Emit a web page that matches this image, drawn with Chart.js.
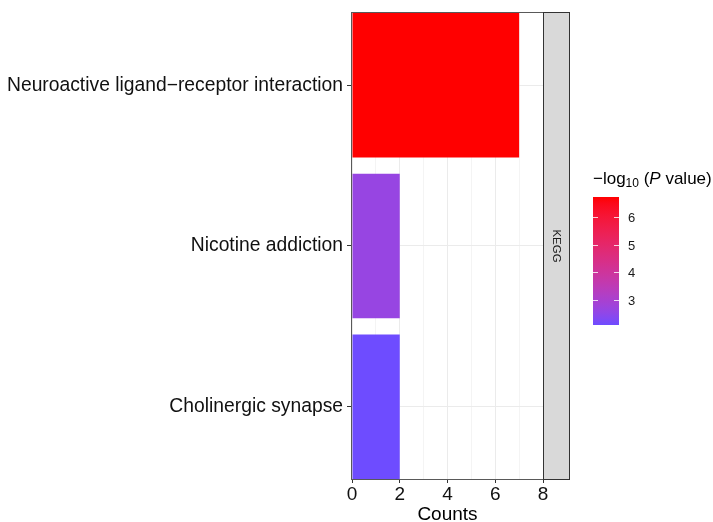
<!DOCTYPE html>
<html><head><meta charset="utf-8">
<script src="https://cdn.jsdelivr.net/npm/chart.js@4/dist/chart.umd.min.js"></script>
<style>html,body{margin:0;padding:0;background:#fff}</style>
</head><body>
<canvas id="c" width="713" height="522"></canvas>
<script>
// ---- data ----
const categories = ["Neuroactive ligand\u2212receptor interaction", "Nicotine addiction", "Cholinergic synapse"];
const counts = [7, 2, 2];
const logP = [6.72, 2.65, 2.10];
const xTickValues = [0, 2, 4, 6, 8];
const legendBreaks = [3, 4, 5, 6];
const facetLabel = "KEGG";
const xTitle = "Counts";

// ---- colour scale (Lab interpolation) ----
const LOW = "#6E4CFF", HIGH = "#FF0000";
function hexRgb(h){return [1,3,5].map(i=>parseInt(h.substr(i,2),16));}
function lin(c){c/=255;return c<=0.04045?c/12.92:Math.pow((c+0.055)/1.055,2.4);}
function unlin(c){c=c<=0.0031308?12.92*c:1.055*Math.pow(c,1/2.4)-0.055;return Math.round(Math.max(0,Math.min(1,c))*255);}
function rgb2lab(rgb){
  const [r,g,b]=rgb.map(lin);
  let X=(r*0.4124+g*0.3576+b*0.1805)/0.95047, Y=(r*0.2126+g*0.7152+b*0.0722), Z=(r*0.0193+g*0.1192+b*0.9505)/1.08883;
  const f=t=>t>0.008856?Math.cbrt(t):7.787*t+16/116;
  const fx=f(X),fy=f(Y),fz=f(Z);
  return [116*fy-16,500*(fx-fy),200*(fy-fz)];
}
function lab2rgb(lab){
  const fy=(lab[0]+16)/116, fx=fy+lab[1]/500, fz=fy-lab[2]/200;
  const fi=t=>t*t*t>0.008856?t*t*t:(t-16/116)/7.787;
  const X=fi(fx)*0.95047, Y=fi(fy), Z=fi(fz)*1.08883;
  const r=X*3.2406+Y*-1.5372+Z*-0.4986, g=X*-0.9689+Y*1.8758+Z*0.0415, b=X*0.0557+Y*-0.2040+Z*1.0570;
  return [unlin(r),unlin(g),unlin(b)];
}
const labLo=rgb2lab(hexRgb(LOW)), labHi=rgb2lab(hexRgb(HIGH));
const vMin=Math.min(...logP), vMax=Math.max(...logP);
function colorFor(v){
  const t=Math.max(0,Math.min(1,(v-vMin)/(vMax-vMin)));
  const c=lab2rgb(labLo.map((x,i)=>x+(labHi[i]-x)*t));
  return `rgb(${c[0]},${c[1]},${c[2]})`;
}

const FAM='"Liberation Sans", Arial, sans-serif';
// ---- decorations plugin ----
const decor = {
  id: 'decor',
  afterDatasetsDraw(chart){
    const ctx=chart.ctx, a=chart.chartArea;
    ctx.save();
    // panel border
    ctx.strokeStyle='#595959'; ctx.lineWidth=1;
    ctx.strokeRect(Math.round(a.left)-0.5, Math.round(a.top)-0.5, Math.round(a.right-a.left)+1, Math.round(a.bottom-a.top)+1);
    // facet strip
    const sx=Math.round(a.right)+0.5, sw=26;
    ctx.fillStyle='#D9D9D9';
    ctx.fillRect(sx, Math.round(a.top)-0.5, sw, Math.round(a.bottom-a.top)+1);
    ctx.strokeStyle='#333333';
    ctx.strokeRect(sx, Math.round(a.top)-0.5, sw, Math.round(a.bottom-a.top)+1);
    ctx.translate(sx+sw/2, (a.top+a.bottom)/2);
    ctx.rotate(Math.PI/2);
    ctx.fillStyle='#1A1A1A'; ctx.font='11.5px '+FAM;
    ctx.textAlign='center'; ctx.textBaseline='middle';
    ctx.fillText(facetLabel,0,0);
    ctx.restore();

    // legend
    ctx.save();
    const bx=593, by=197, bw=26, bh=128;
    const yOf=v=>by+bh-(v-vMin)/(vMax-vMin)*bh;
    const grad=ctx.createLinearGradient(0,by+bh,0,by);
    for(let i=0;i<=20;i++){grad.addColorStop(i/20, colorFor(vMin+(vMax-vMin)*i/20));}
    ctx.fillStyle=grad; ctx.fillRect(bx,by,bw,bh);
    ctx.strokeStyle='rgba(255,255,255,0.8)'; ctx.lineWidth=1;
    ctx.font='13px '+FAM; ctx.fillStyle='#1A1A1A';
    ctx.textAlign='left'; ctx.textBaseline='middle';
    legendBreaks.forEach(v=>{
      const y=Math.round(yOf(v))+0.5;
      ctx.beginPath(); ctx.moveTo(bx,y); ctx.lineTo(bx+5,y); ctx.moveTo(bx+bw-5,y); ctx.lineTo(bx+bw,y); ctx.stroke();
      ctx.fillText(String(v), bx+bw+9, y+1);
    });
    // title: −log10 (P value)
    let x=593; const base=184;
    ctx.textBaseline='alphabetic'; ctx.fillStyle='#000';
    const piece=(t,font,dy)=>{ctx.font=font; ctx.fillText(t,x,base+dy); x+=ctx.measureText(t).width;};
    piece('\u2212log','17px '+FAM,0);
    piece('10','12px '+FAM,3);
    piece(' (','17px '+FAM,0);
    piece('P','italic 17px '+FAM,0);
    piece(' value)','17px '+FAM,0);
    ctx.restore();
  }
};

const F19 = {family:FAM, size:19.3};
new Chart(document.getElementById('c'), {
  type:'bar',
  data:{
    datasets:[{
      data: counts.map((c,i)=>({x:c, y:i+1})),
      backgroundColor: logP.map(colorFor),
      borderWidth:0,
      barPercentage:0.9,
      categoryPercentage:1.0
    }]
  },
  options:{
    indexAxis:'y',
    responsive:false,
    animation:false,
    events:[],
    layout:{padding:{top:13, right:170, left:0, bottom:0}},
    plugins:{legend:{display:false}, tooltip:{enabled:false}},
    scales:{
      x:{
        type:'linear', min:0, max:8, offset:false,
        ticks:{stepSize:1, color:'#111', font:{family:FAM, size:19}, padding:0, maxRotation:0,
          callback:v=>xTickValues.includes(v)?String(v):''},
        grid:{
          offset:false,
          color:c=>(c.tick && xTickValues.includes(c.tick.value))?'#EBEBEB':'#F4F4F4',
          tickColor:c=>(c.tick && xTickValues.includes(c.tick.value))?'#333':'rgba(0,0,0,0)',
          tickLength:4, lineWidth:1
        },
        border:{display:false},
        title:{display:true, text:xTitle, color:'#000', font:{family:FAM, size:19, lineHeight:0.8}, padding:{top:0,bottom:0}},
        afterFit:s=>{s.height=43; s.paddingLeft=0; s.paddingRight=0;}
      },
      y:{
        type:'linear', min:0.55, max:3.45, reverse:true, offset:false,
        afterBuildTicks:s=>{s.ticks=categories.map((_,i)=>({value:i+1}));},
        ticks:{color:'#111', font:F19, padding:4, callback:v=>categories[Math.round(v)-1]||''},
        grid:{offset:false, color:'#EBEBEB', tickColor:'#333', tickLength:5, lineWidth:1},
        border:{display:false},
        afterFit:s=>{s.width=352; s.paddingTop=0; s.paddingBottom=0;}
      }
    }
  },
  plugins:[decor]
});
</script>
</body></html>
